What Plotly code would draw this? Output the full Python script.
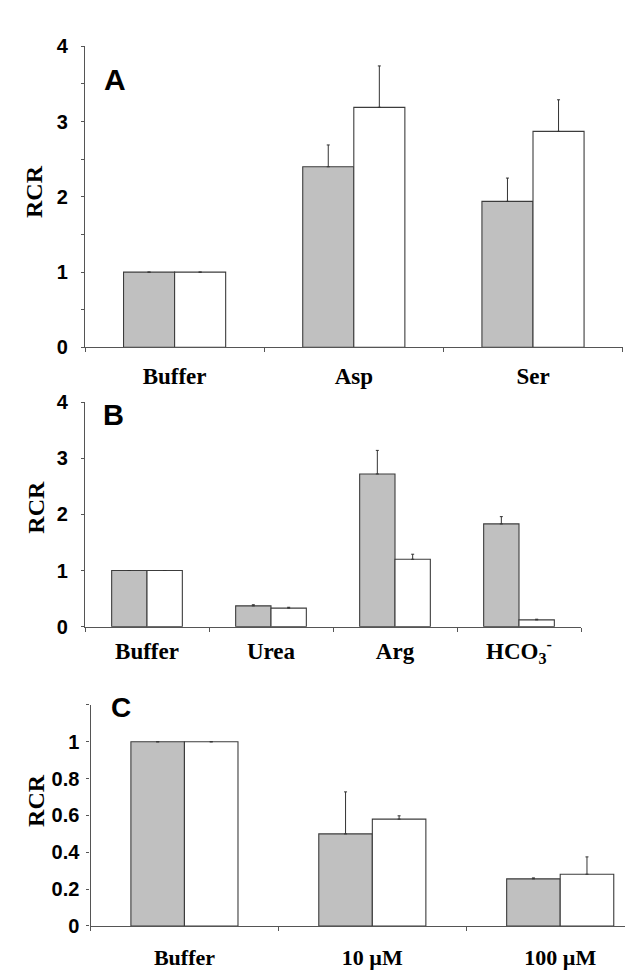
import plotly.graph_objects as go

# ---------------- data ----------------
cats_a = ["Buffer", "Asp", "Ser"]
gray_a = [1.0, 2.40, 1.94]
gray_a_err = [0.0, 0.29, 0.31]
white_a = [1.0, 3.19, 2.87]
white_a_err = [0.0, 0.55, 0.42]

cats_b = ["Buffer", "Urea", "Arg", "HCO<sub>3</sub><sup>-</sup>"]
gray_b = [1.0, 0.37, 2.72, 1.83]
gray_b_err = [0.0, 0.02, 0.42, 0.13]
white_b = [1.0, 0.33, 1.20, 0.12]
white_b_err = [0.0, 0.015, 0.09, 0.012]

cats_c = ["Buffer", "10 \u00b5M", "100 \u00b5M"]
gray_c = [1.0, 0.50, 0.256]
gray_c_err = [0.0, 0.228, 0.005]
white_c = [1.0, 0.58, 0.281]
white_c_err = [0.0, 0.018, 0.094]

y_ticks_a = [0, 1, 2, 3, 4]
y_ticks_b = [0, 1, 2, 3, 4]
y_ticks_c = [0, 0.2, 0.4, 0.6, 0.8, 1.0]
y_text_c = ["0", "0.2", "0.4", "0.6", "0.8", "1"]
y_minor_c = [1.2]

# ---------------- styling ----------------
W, H = 633, 972
GRAY = "#c0c0c0"
EDGE = "#3c3c3c"
AXIS = "#555555"
SANS = "Liberation Sans"
SERIF = "Liberation Serif"


def px_x(v):
    return v / W


def px_y(v):
    return 1 - v / H


fig = go.Figure()

panels = [
    (cats_a, gray_a, gray_a_err, white_a, white_a_err, "x", "y"),
    (cats_b, gray_b, gray_b_err, white_b, white_b_err, "x2", "y2"),
    (cats_c, gray_c, gray_c_err, white_c, white_c_err, "x3", "y3"),
]

for cats, g, ge, w, we, xa, ya in panels:
    fig.add_trace(go.Bar(
        x=cats, y=g, xaxis=xa, yaxis=ya, showlegend=False,
        marker=dict(color=GRAY, line=dict(color=EDGE, width=1.1)),
        error_y=dict(type="data", symmetric=False, array=ge,
                     arrayminus=[0] * len(ge), thickness=1, width=1.5, color="#333333"),
    ))
    fig.add_trace(go.Bar(
        x=cats, y=w, xaxis=xa, yaxis=ya, showlegend=False,
        marker=dict(color="#ffffff", line=dict(color=EDGE, width=1.1)),
        error_y=dict(type="data", symmetric=False, array=we,
                     arrayminus=[0] * len(we), thickness=1, width=1.5, color="#333333"),
    ))

xcommon = dict(
    type="category", showgrid=False, zeroline=False, showline=True,
    linecolor=AXIS, linewidth=1.2, ticks="outside", tickson="boundaries",
    ticklen=4, tickcolor=AXIS, tickwidth=1,
    tickfont=dict(family=SERIF, size=23, color="black", weight="bold"),
)
ycommon = dict(
    showgrid=False, zeroline=False, showline=True, linecolor=AXIS,
    linewidth=1.2, ticks="outside", ticklen=3, tickcolor=AXIS, tickwidth=1,
    tickfont=dict(family=SANS, size=20, color="black", weight="bold"),
)

fig.update_layout(
    width=W, height=H, margin=dict(l=0, r=0, t=0, b=0),
    paper_bgcolor="white", plot_bgcolor="white",
    barmode="group", bargap=0.43, bargroupgap=0,
    xaxis=dict(xcommon, domain=[px_x(77), px_x(614.6)], anchor="y",
               range=[-0.5, 2.5], ticklabelstandoff=8),
    yaxis=dict(ycommon, domain=[px_y(336), px_y(28)], anchor="x",
               range=[0, 4], tickvals=y_ticks_a, ticklabelstandoff=9,
               minor=dict(dtick=0.5, tick0=0, ticks="outside", ticklen=3, tickcolor=AXIS)),
    xaxis2=dict(xcommon, domain=[px_x(77), px_x(573)], anchor="y2",
                range=[-0.5, 3.5], ticklabelstandoff=4),
    yaxis2=dict(ycommon, domain=[px_y(621.7), px_y(392)], anchor="x2",
                range=[0, 4], tickvals=y_ticks_b, ticklabelstandoff=9),
    xaxis3=dict(xcommon, domain=[px_x(82.5), 1.0], anchor="y3",
                range=[-0.5, 2.43], ticklabelstandoff=12,
                tickfont=dict(family=SERIF, size=22, color="black", weight="bold")),
    yaxis3=dict(ycommon, domain=[px_y(928), px_y(701.8)], anchor="x3",
                range=[0, 1.2], tickvals=y_ticks_c, ticktext=y_text_c,
                ticklabelstandoff=3,
                minor=dict(tickvals=y_minor_c, ticks="outside", ticklen=3, tickcolor=AXIS)),
)

# panel letters
for letter, x0, y0, size in [("A", 94, 48, 30), ("B", 93, 392, 29), ("C", 101, 692, 28)]:
    fig.add_annotation(text=f"<b>{letter}</b>", xref="paper", yref="paper",
                       x=px_x(x0), y=px_y(y0 - 5), xanchor="left", yanchor="top",
                       showarrow=False, font=dict(family=SANS, size=size, color="black"))

# y-axis titles
for xc, yc in [(26, 177), (28, 500), (28, 800)]:
    fig.add_annotation(text="<b>RCR</b>", xref="paper", yref="paper",
                       x=px_x(xc), y=px_y(yc), xanchor="center", yanchor="middle",
                       textangle=-90, showarrow=False,
                       font=dict(family=SERIF, size=24, color="black"))

fig.write_html("out.html")
